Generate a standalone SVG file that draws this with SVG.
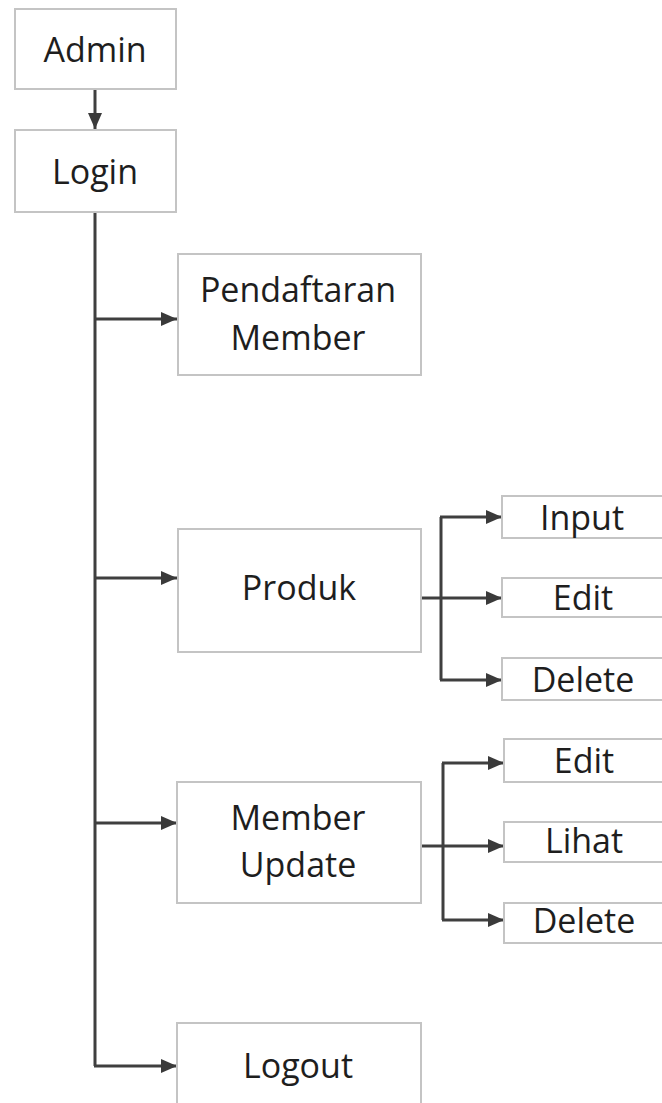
<svg xmlns="http://www.w3.org/2000/svg" width="662" height="1103" viewBox="0 0 662 1103">
<defs>
<marker id="ah" markerUnits="userSpaceOnUse" markerWidth="18" markerHeight="16" refX="16" refY="7" orient="auto">
<path d="M0,0 L16,7 L0,14 z" fill="#3a3a3a"/>
</marker>
<style>
.box{fill:#ffffff;stroke:#c4c4c4;stroke-width:2}
.t{font-family:"Open Sans","Liberation Sans",sans-serif;font-size:34px;fill:#1e1e1e;text-anchor:middle}
.c{fill:none;stroke:#3f3f3f;stroke-width:3}
.a{fill:none;stroke:#3f3f3f;stroke-width:3;marker-end:url(#ah)}
</style>
</defs>
<rect width="662" height="1103" fill="#ffffff"/>
<g id="connectors">
<path class="a" d="M95,89 V129"/>
<path class="c" d="M95,212 V1066"/>
<path class="a" d="M95,319 H177"/>
<path class="a" d="M95,578 H177"/>
<path class="a" d="M95,823 H177"/>
<path class="a" d="M94,1066 H177"/>
<path class="c" d="M421,598 H441"/>
<path class="c" d="M441,517 V680"/>
<path class="a" d="M440,517 H502"/>
<path class="a" d="M441,598 H502"/>
<path class="a" d="M440,680 H502"/>
<path class="c" d="M421,846 H443"/>
<path class="c" d="M443,763 V920"/>
<path class="a" d="M442,763 H504"/>
<path class="a" d="M443,846 H504"/>
<path class="a" d="M442,920 H504"/>
</g>
<g id="admin"><rect class="box" x="15" y="9" width="161" height="80"/><text class="t" x="95" y="62">Admin</text></g>
<g id="login"><rect class="box" x="15" y="130" width="161" height="82"/><text class="t" x="95" y="184">Login</text></g>
<g id="pendaftaran"><rect class="box" x="178" y="254" width="243" height="121"/><text class="t" x="298" y="302">Pendaftaran</text><text class="t" x="298" y="350">Member</text></g>
<g id="produk"><rect class="box" x="178" y="529" width="243" height="123"/><text class="t" x="299" y="600">Produk</text></g>
<g id="member-update"><rect class="box" x="177" y="782" width="244" height="121"/><text class="t" x="298" y="830">Member</text><text class="t" x="298" y="877">Update</text></g>
<g id="logout"><rect class="box" x="177" y="1023" width="244" height="100"/><text class="t" x="298" y="1078">Logout</text></g>
<g id="produk-input"><rect class="box" x="502" y="496" width="170" height="42"/><text class="t" x="582" y="530">Input</text></g>
<g id="produk-edit"><rect class="box" x="502" y="578" width="170" height="39"/><text class="t" x="583" y="610">Edit</text></g>
<g id="produk-delete"><rect class="box" x="502" y="658" width="170" height="42"/><text class="t" x="583" y="692">Delete</text></g>
<g id="member-edit"><rect class="box" x="504" y="739" width="170" height="43"/><text class="t" x="584" y="773">Edit</text></g>
<g id="member-lihat"><rect class="box" x="504" y="822" width="170" height="40"/><text class="t" x="584" y="853">Lihat</text></g>
<g id="member-delete"><rect class="box" x="504" y="903" width="170" height="40"/><text class="t" x="584" y="933">Delete</text></g>
</svg>
